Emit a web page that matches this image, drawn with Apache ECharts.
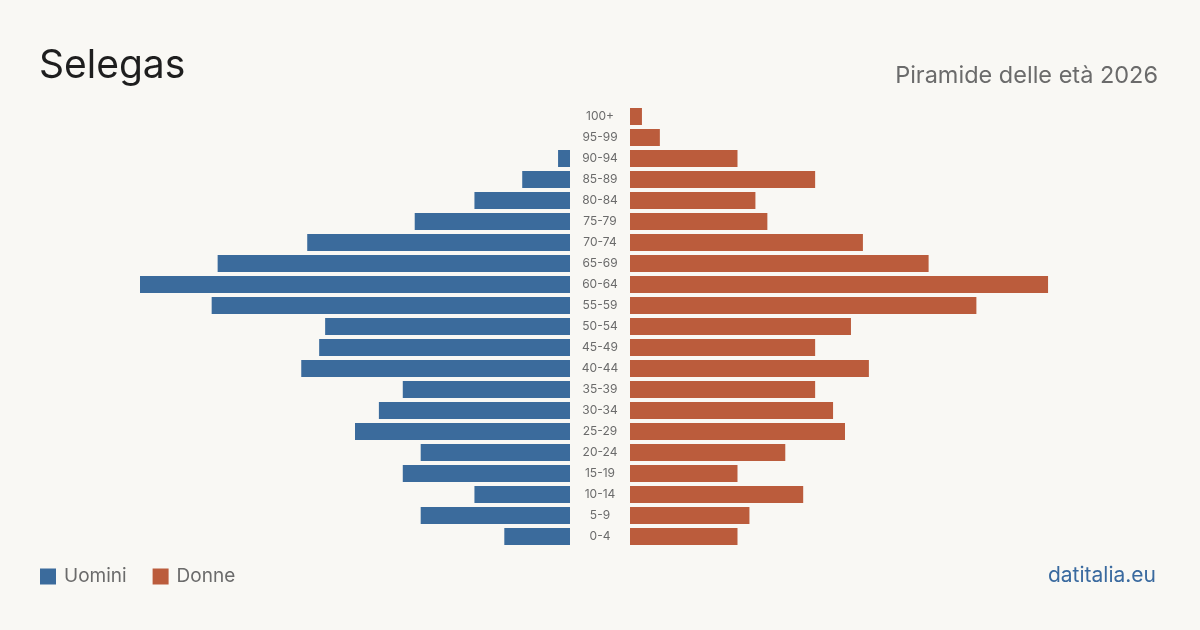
<!DOCTYPE html>
<html><head><meta charset="utf-8">
<script src="https://cdn.jsdelivr.net/npm/echarts@6/dist/echarts.min.js"></script>
<style>html,body{margin:0;padding:0;background:#f9f8f4}#c{width:1200px;height:630px}</style>
</head><body><div id="c"></div>
<script>
const ageGroups = ['0-4','5-9','10-14','15-19','20-24','25-29','30-34','35-39','40-44','45-49','50-54','55-59','60-64','65-69','70-74','75-79','80-84','85-89','90-94','95-99','100+'];
const men   = [11,25,16,28,25,36,32,28,45,42,41,60,72,59,44,26,16,8,2,0,0];
const women = [18,20,29,18,26,36,34,31,40,31,37,58,70,50,39,23,21,31,18,5,2];
const axisMax = 72;
const FONT = 'Inter, "Noto Sans", sans-serif';
const chart = echarts.init(document.getElementById('c'));
chart.setOption({
  backgroundColor: '#f9f8f4',
  animation: false,
  title: [
    {text: 'Selegas', left: 39, top: 47, padding: 0, textStyle: {fontFamily: FONT, fontSize: 39, fontWeight: 'normal', color: '#1e1e1e'}},
    {text: 'Piramide delle età 2026', right: 42, top: 64, padding: 0, textStyle: {fontFamily: FONT, fontSize: 23.5, fontWeight: 'normal', color: '#6b6b6b'}},
    {text: 'datitalia.eu', right: 44, top: 565, padding: 0, textStyle: {fontFamily: FONT, fontSize: 21, fontWeight: 'normal', color: '#3a6a9f'}}
  ],
  legend: {
    left: 40, top: 567, padding: 0, itemWidth: 16, itemHeight: 16, itemGap: 26, icon: 'rect',
    textStyle: {fontFamily: FONT, fontSize: 19, color: '#6b6b6b', padding: [0,0,0,3]},
    data: ['Uomini','Donne']
  },
  grid: [
    {left: 140, width: 430, top: 106, height: 441},
    {left: 630, width: 430, top: 106, height: 441}
  ],
  xAxis: [
    {gridIndex: 0, type: 'value', min: 0, max: axisMax, inverse: true, show: false},
    {gridIndex: 1, type: 'value', min: 0, max: axisMax, show: false}
  ],
  yAxis: [
    {gridIndex: 0, type: 'category', data: ageGroups, position: 'right',
     axisLine: {show: false}, axisTick: {show: false},
     axisLabel: {margin: 30, align: 'center', fontFamily: FONT, fontSize: 12, color: '#6b6b6b', padding: [3,0,0,0]}},
    {gridIndex: 1, type: 'category', data: ageGroups, show: false}
  ],
  series: [
    {name: 'Uomini', type: 'bar', xAxisIndex: 0, yAxisIndex: 0, data: men, barWidth: 17, itemStyle: {color: '#3b6b9c'}},
    {name: 'Donne', type: 'bar', xAxisIndex: 1, yAxisIndex: 1, data: women, barWidth: 17, itemStyle: {color: '#bb5c3c'}}
  ]
});
</script></body></html>
